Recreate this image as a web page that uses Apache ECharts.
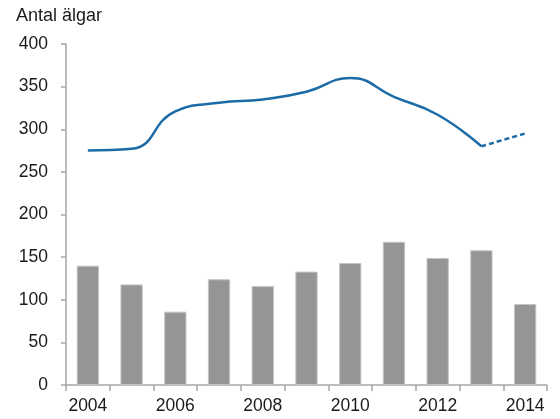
<!DOCTYPE html>
<html>
<head>
<meta charset="utf-8">
<script src="https://cdn.jsdelivr.net/npm/echarts@6/dist/echarts.min.js"></script>
<style>
  html, body { margin: 0; padding: 0; background: #fff; }
  #chart { width: 560px; height: 419px; }
</style>
</head>
<body>
<div id="chart"></div>
<script>
const years = ['2004', '2005', '2006', '2007', '2008', '2009', '2010', '2011', '2012', '2013', '2014']
const barValues = [140, 118, 86, 124, 116, 133, 143, 168, 149, 158, 95]
const lineValues = [275, 277, 321, 331, 335, 344, 360, 338, 317, 280, null]
const lineForecast = [null, null, null, null, null, null, null, null, null, 280, 295]
const yTicks = [0, 50, 100, 150, 200, 250, 300, 350, 400]

const axisColor = '#a6a6a6'
const textColor = '#1a1a1a'
const fontFamily = '"Liberation Sans", Arial, sans-serif'

const chart = echarts.init(document.getElementById('chart'))
chart.setOption({
  animation: false,
  textStyle: { fontFamily: fontFamily },
  title: {
    text: 'Antal älgar',
    left: 16,
    top: 7,
    padding: 0,
    textStyle: { fontSize: 18, fontWeight: 'normal', color: textColor, fontFamily: fontFamily }
  },
  grid: { left: 66, right: 13, top: 44, bottom: 34, containLabel: false },
  xAxis: {
    type: 'category',
    data: years,
    boundaryGap: true,
    axisLine: { lineStyle: { color: axisColor, width: 1.5 } },
    axisTick: { show: true, length: 6, alignWithLabel: false, interval: 0, lineStyle: { color: axisColor, width: 1.5 } },
    axisLabel: { interval: 1, color: textColor, fontSize: 17.5, margin: 12 },
    splitLine: { show: false }
  },
  yAxis: {
    type: 'value',
    min: yTicks[0],
    max: yTicks[yTicks.length - 1],
    interval: 50,
    axisLine: { show: true, lineStyle: { color: axisColor, width: 1.5 } },
    axisTick: { show: true, length: 5, lineStyle: { color: axisColor, width: 1.5 } },
    axisLabel: { color: textColor, fontSize: 17.5, margin: 18 },
    splitLine: { show: false }
  },
  series: [
    {
      name: 'bars',
      type: 'bar',
      data: barValues,
      barWidth: '51%',
      itemStyle: { color: '#959595', borderColor: '#c4c4c4', borderWidth: 1 }
    },
    {
      name: 'line',
      type: 'line',
      data: lineValues,
      smooth: 0.5,
      showSymbol: false,
      connectNulls: false,
      lineStyle: { color: '#1b6ba6', width: 2.5 },
      z: 5
    },
    {
      name: 'forecast',
      type: 'line',
      data: lineForecast,
      smooth: 0.5,
      showSymbol: false,
      lineStyle: { color: '#1b6ba6', width: 2.5, type: [5, 3] },
      z: 5
    }
  ]
})
</script>
</body>
</html>
